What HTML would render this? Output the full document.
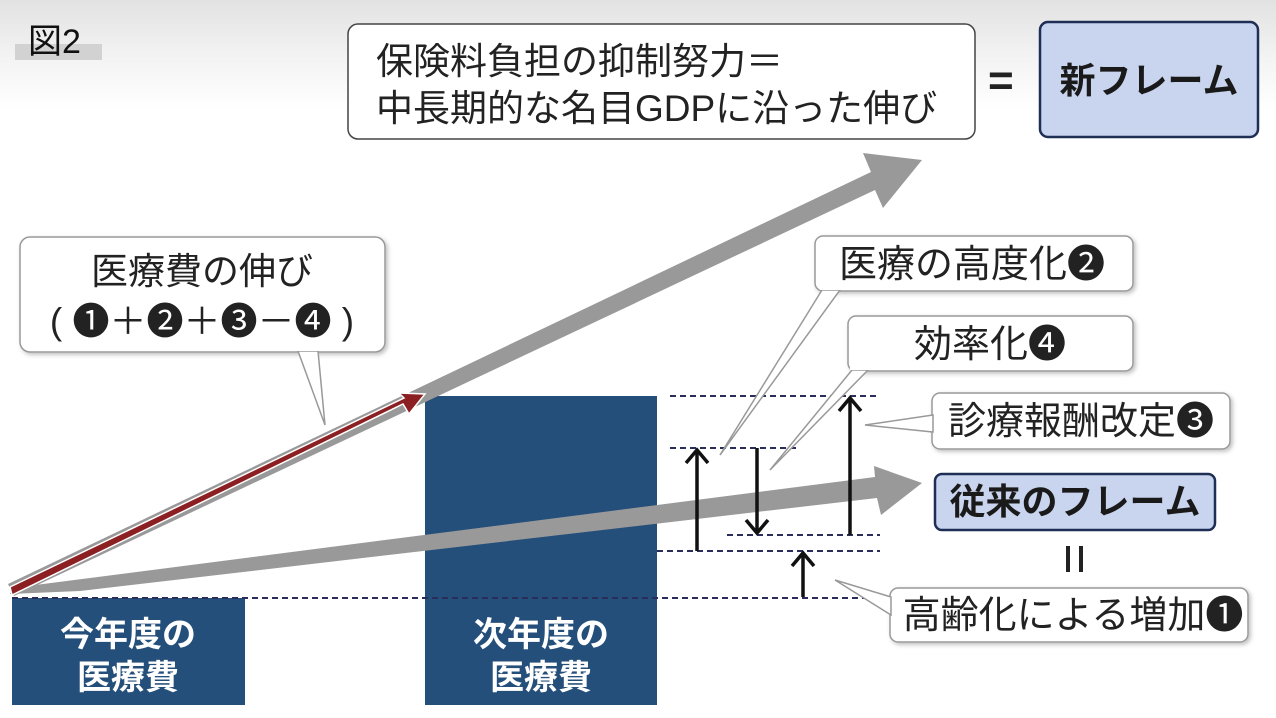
<!DOCTYPE html>
<html><head><meta charset="utf-8"><style>
html,body{margin:0;padding:0;background:#fff;}
body{width:1276px;height:718px;overflow:hidden;}
svg{display:block;}
svg text{font-family:"Liberation Sans","Noto Sans CJK JP",sans-serif;}
</style></head><body>
<svg width="1276" height="718" xmlns="http://www.w3.org/2000/svg">
<defs>
<filter id="sh" x="-10%" y="-10%" width="130%" height="140%"><feDropShadow dx="2" dy="2" stdDeviation="2" flood-color="#000" flood-opacity="0.25"/></filter>
<linearGradient id="bg" x1="0" y1="0" x2="0" y2="1"><stop offset="0" stop-color="#e2e2e2"/><stop offset="0.55" stop-color="#f4f4f4"/><stop offset="1" stop-color="#fff"/></linearGradient>
</defs>
<rect x="0" y="0" width="1276" height="110" fill="url(#bg)"/>
<rect x="15" y="44" width="87" height="16" fill="#d2d2d2"/>
<text x="28" y="53" font-size="34" fill="#111">図2</text>

<!-- top box -->
<rect x="348" y="24" width="627" height="115" rx="10" fill="#fff" stroke="#444" stroke-width="1.5"/>
<text x="376" y="74" font-size="37" fill="#222">保険料負担の抑制努力＝</text>
<text x="376" y="121" font-size="37" fill="#222">中長期的な名目GDPに沿った伸び</text>
<text x="988" y="95" font-size="44" font-weight="bold" fill="#222">=</text>
<rect x="1040" y="22" width="218" height="115" rx="8" fill="#c9d5ef" stroke="#1e2e55" stroke-width="2.5"/>
<text x="1149" y="93" font-size="36" font-weight="bold" fill="#1a1a1a" text-anchor="middle">新フレーム</text>

<!-- bars -->
<rect x="12" y="598" width="233" height="107" fill="#244f7a"/>
<text x="128" y="646" font-size="34" font-weight="bold" fill="#fff" text-anchor="middle">今年度の</text>
<text x="128" y="689" font-size="34" font-weight="bold" fill="#fff" text-anchor="middle">医療費</text>
<rect x="425" y="396" width="232" height="309" fill="#244f7a"/>
<text x="541" y="646" font-size="34" font-weight="bold" fill="#fff" text-anchor="middle">次年度の</text>
<text x="541" y="689" font-size="34" font-weight="bold" fill="#fff" text-anchor="middle">医療費</text>

<!-- gray arrows -->
<polygon points="8,584 14,596 875,190 883,208 922,160 863,153 871,172" fill="#999"/>
<polygon points="10,594 80,591 877,498 881,515 922,483 874,466 875,477 12,588" fill="#999"/>
<!-- red arrow -->
<polygon points="10,587 12,595 403,404 409,414 425,394 399,393 404,398" fill="#8b1f22" stroke="#fff" stroke-width="1.5"/>

<!-- dashed lines -->
<g stroke="#2a2d5a" stroke-width="2" stroke-dasharray="6,4">
<line x1="12" y1="598" x2="880" y2="598"/>
<line x1="657" y1="551" x2="880" y2="551"/>
<line x1="727" y1="535" x2="880" y2="535"/>
<line x1="670" y1="448" x2="800" y2="448"/>
<line x1="670" y1="396" x2="880" y2="396"/>
</g>

<!-- black arrows -->
<g stroke="#111" stroke-width="3.5" fill="none">
<line x1="697" y1="551" x2="697" y2="450"/><polyline points="686,463 697,450 708,463"/>
<line x1="757" y1="448" x2="757" y2="533"/><polyline points="746,520 757,533 768,520"/>
<line x1="850" y1="535" x2="850" y2="398"/><polyline points="839,411 850,398 861,411"/>
<line x1="803" y1="597" x2="803" y2="553"/><polyline points="792,566 803,553 814,566"/>
</g>

<!-- callouts -->
<g fill="#fff" stroke="#999" stroke-width="1.5" filter="url(#sh)">
<rect x="20" y="237" width="365" height="115" rx="10"/>
<rect x="815" y="236" width="318" height="55" rx="8"/>
<rect x="848" y="316" width="285" height="55" rx="8"/>
<rect x="932" y="393" width="298" height="56" rx="8"/>
<rect x="890" y="588" width="358" height="54" rx="8"/>
</g>
<g fill="#fff" stroke="#999" stroke-width="1.5">
<polygon points="298,351 325,425 318,351"/>
<polygon points="822,290 720,455 840,290"/>
<polygon points="852,370 770,470 868,370"/>
<polygon points="933,415 865,425 933,432"/>
<polygon points="891,597 835,580 891,615"/>
</g>
<g fill="#fff">
<rect x="296" y="345" width="25" height="6"/>
<rect x="820" y="284" width="22" height="6"/>
<rect x="850" y="364" width="20" height="6"/>
<rect x="934" y="413" width="6" height="21"/>
<rect x="892" y="595" width="6" height="22"/>
</g>
<text x="202" y="284" font-size="37" fill="#222" text-anchor="middle">医療費の伸び</text>
<text x="202" y="334" font-size="37" fill="#222" text-anchor="middle">( ❶＋❷＋❸－❹ )</text>
<text x="972" y="277" font-size="38" fill="#222" text-anchor="middle">医療の高度化❷</text>
<text x="990" y="357" font-size="38" fill="#222" text-anchor="middle">効率化❹</text>
<text x="1081" y="434" font-size="38" fill="#222" text-anchor="middle">診療報酬改定❸</text>
<text x="1073" y="628" font-size="38" fill="#222" text-anchor="middle">高齢化による増加❶</text>

<rect x="935" y="474" width="280" height="56" rx="7" fill="#c9d5ef" stroke="#1e2e55" stroke-width="2.5"/>
<text x="1075" y="514" font-size="36" font-weight="bold" fill="#1a1a1a" text-anchor="middle">従来のフレーム</text>
<rect x="1066" y="546" width="4" height="26" fill="#222"/>
<rect x="1079" y="546" width="4" height="26" fill="#222"/>
</svg>
</body></html>
